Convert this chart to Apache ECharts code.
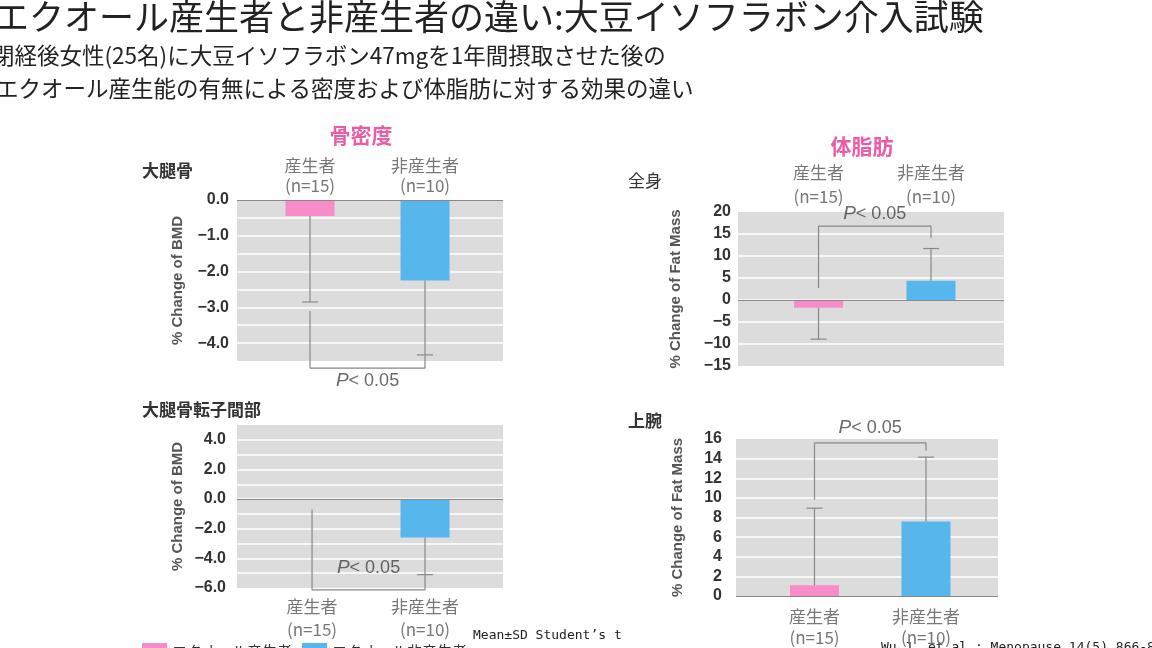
<!DOCTYPE html>
<html>
<head>
<meta charset="utf-8">
<script src="https://cdn.jsdelivr.net/npm/echarts@6/dist/echarts.min.js"></script>
<style>
html, body { margin: 0; padding: 0; background: #fff; }
#chart { width: 1152px; height: 648px; }
</style>
</head>
<body>
<div id="chart"></div>
<script>
// 群
const groups = ['産生者', '非産生者'];
const groupN = ['(n=15)', '(n=10)'];
const seriesNames = ['エクオール産生者', 'エクオール非産生者'];

// 骨密度 % change (mean / SD)
const femurMean = [-0.45, -2.25];
const femurSD = [2.4, 2.08];
const trochMean = [0.0, -2.6];
const trochSD = [0, 2.5];

// 体脂肪 % change (mean / SD)
const wholeMean = [-1.75, 4.4];
const wholeSD = [7.15, 7.3];
const armMean = [1.1, 7.6];
const armSD = [7.85, 6.55];

// 有意差ブラケット [左の起点, 右の起点, 横線]
const femurBracket = [-3.1, -4.35, -4.7];
const trochBracket = [-0.7, -5.1, -6.13];
const wholeBracket = [2.7, 14.1, 16.8];
const armBracket = [9.8, 14.8, 15.6];

const colors = ['#f78cc9', '#57b6ec'];
const JP = '"Noto Sans CJK JP", sans-serif';
const NUM = '"Liberation Sans", Arial, sans-serif';

const panels = [
    { mean: femurMean, sd: femurSD, bracket: femurBracket, pY: -5.05,
      grid: { left: 237, top: 200, width: 266, height: 161 }, x: [0.365, 2.678],
      y: { min: -4.5, max: 0, interval: 0.5 }, every: 1, labelMax: 0, digits: 1,
      xPos: 'top', lineH: 20, margin: 4, name: '% Change of BMD', nameGap: 52 },
    { mean: trochMean, sd: trochSD, bracket: trochBracket, pY: -4.66,
      grid: { left: 237, top: 425, width: 266, height: 163 }, x: [0.336, 2.69],
      y: { min: -6, max: 5, interval: 1 }, every: 2, labelMax: 4, digits: 1,
      xPos: 'bottom', lineH: 23, margin: 7, name: '% Change of BMD', nameGap: 52 },
    { mean: wholeMean, sd: wholeSD, bracket: wholeBracket, pY: 19.5,
      grid: { left: 738, top: 212, width: 266, height: 154 }, x: [0.284, 2.649],
      y: { min: -15, max: 20, interval: 5 }, every: 5, labelMax: 20, digits: 0,
      xPos: 'top', lineH: 24, margin: 3, name: '% Change of Fat Mass', nameGap: 55 },
    { mean: armMean, sd: armSD, bracket: armBracket, pY: 17.1,
      grid: { left: 736, top: 439, width: 262, height: 158 }, x: [0.296, 2.646],
      y: { min: 0, max: 16, interval: 2 }, every: 2, labelMax: 16, digits: 0,
      xPos: 'bottom', lineH: 21, margin: 10, name: '% Change of Fat Mass', nameGap: 51 }
];

function fmtTick(v, p) {
    const k = v / p.every;
    if (Math.abs(k - Math.round(k)) > 1e-6 || v > p.labelMax + 1e-6) return '';
    const s = p.digits ? Math.abs(v).toFixed(p.digits) : String(Math.abs(Math.round(v)));
    return (v < -1e-9 ? '\u2212' : '') + s;
}

const grid = [], xAxis = [], yAxis = [], series = [];

panels.forEach((p, i) => {
    grid.push(Object.assign({ show: true, backgroundColor: '#dcdcdc', borderWidth: 0 }, p.grid));
    xAxis.push({
        gridIndex: i, type: 'value', min: p.x[0], max: p.x[1], position: p.xPos,
        axisLine: { show: false }, axisTick: { show: false }, splitLine: { show: false },
        axisLabel: {
            customValues: [1, 2],
            formatter: v => groups[Math.round(v) - 1] + '\n' + groupN[Math.round(v) - 1],
            margin: p.margin, lineHeight: p.lineH, fontSize: 17, color: '#777', fontFamily: JP
        }
    });
    yAxis.push({
        gridIndex: i, type: 'value', min: p.y.min, max: p.y.max, interval: p.y.interval,
        name: p.name, nameLocation: 'middle', nameGap: p.nameGap,
        nameTextStyle: { fontSize: 15, fontWeight: 'bold', color: '#555', fontFamily: NUM },
        axisLine: { show: false }, axisTick: { show: false },
        splitLine: { show: true, showMinLine: false, showMaxLine: false, lineStyle: { color: '#f6f6f6', width: 2 } },
        axisLabel: {
            formatter: v => fmtTick(v, p), margin: p.margin + 4,
            fontSize: 16, fontWeight: 'bold', color: '#333', fontFamily: NUM
        }
    });

    // 棒
    [0, 1].forEach(k => {
        series.push({
            type: 'bar', name: seriesNames[k], xAxisIndex: i, yAxisIndex: i,
            data: [[k + 1, p.mean[k]]], barWidth: 49, barGap: '-100%',
            itemStyle: { color: colors[k] },
            markLine: k === 0 ? {
                silent: true, symbol: 'none', label: { show: false },
                lineStyle: { color: '#888', width: 1, type: 'solid' },
                data: [{ yAxis: 0 }]
            } : undefined,
            z: 2
        });
    });

    // SD（片側）
    const err = [];
    p.mean.forEach((m, k) => {
        if (p.sd[k] > 0) err.push([k + 1, m, m + (m < 0 ? -1 : 1) * p.sd[k]]);
    });
    series.push({
        type: 'custom', xAxisIndex: i, yAxisIndex: i, data: err, clip: false, silent: true, z: 3,
        renderItem: (params, api) => {
            const a = api.coord([api.value(0), api.value(1)]);
            const b = api.coord([api.value(0), api.value(2)]);
            const st = { stroke: '#888', lineWidth: 1.2 };
            return {
                type: 'group', children: [
                    { type: 'line', shape: { x1: a[0], y1: a[1], x2: b[0], y2: b[1] }, style: st },
                    { type: 'line', shape: { x1: b[0] - 8, y1: b[1], x2: b[0] + 8, y2: b[1] }, style: st }
                ]
            };
        }
    });

    // ブラケット
    const br = p.bracket;
    series.push({
        type: 'line', xAxisIndex: i, yAxisIndex: i, clip: false, silent: true, symbol: 'none', z: 3,
        lineStyle: { color: '#888', width: 1.2 },
        data: [[1, br[0]], [1, br[2]], [2, br[2]], [2, br[1]]]
    });

    // P値
    series.push({
        type: 'scatter', xAxisIndex: i, yAxisIndex: i, clip: false, silent: true, z: 4,
        symbolSize: 2, itemStyle: { color: 'rgba(0,0,0,0)' },
        data: [[1.5, p.pY]],
        label: {
            show: true, position: 'inside', formatter: '{i|P}{n|< 0.05}',
            rich: {
                i: { fontStyle: 'italic', fontSize: 19, color: '#444', fontFamily: NUM },
                n: { fontSize: 18, color: '#444', fontFamily: NUM }
            }
        }
    });
});

function txt(x, y, text, size, extra) {
    return {
        type: 'text', x: x, y: y, silent: true,
        style: Object.assign({ text: text, fontSize: size, fontFamily: JP, fill: '#333',
            textVerticalAlign: 'middle' }, extra || {})
    };
}

const graphics = [
    txt(-6, 17, 'エクオール産生者と非産生者の違い:大豆イソフラボン介入試験', 35, { fill: '#222' }),
    txt(-8, 55, '閉経後女性(25名)に大豆イソフラボン47mgを1年間摂取させた後の', 22.5, { fill: '#222' }),
    txt(-4, 88, 'エクオール産生能の有無による密度および体脂肪に対する効果の違い', 22.5, { fill: '#222' }),
    txt(361, 135, '骨密度', 21, { fill: '#ec5ca6', fontWeight: 'bold', textAlign: 'center' }),
    txt(862, 146, '体脂肪', 21, { fill: '#ec5ca6', fontWeight: 'bold', textAlign: 'center' }),
    txt(142, 171, '大腿骨', 17, { fontWeight: 'bold' }),
    txt(142, 410, '大腿骨転子間部', 17, { fontWeight: 'bold' }),
    txt(628, 181, '全身', 17),
    txt(628, 421, '上腕', 17, { fontWeight: 'bold' }),
    txt(473, 636, 'Mean±SD Student’s t', 13, { fontFamily: '"DejaVu Sans Mono", monospace', fill: '#222' }),
    txt(881, 648, 'Wu J, et al.: Menopause 14(5) 866-874 2007', 13, { fontFamily: '"DejaVu Sans Mono", monospace', fill: '#222' })
];

const chart = echarts.init(document.getElementById('chart'));
chart.setOption({
    animation: false,
    backgroundColor: '#fff',
    legend: {
        data: seriesNames, left: 137, top: 638, itemWidth: 25, itemHeight: 16, itemGap: 10,
        icon: 'rect', textStyle: { fontSize: 15, color: '#333', fontFamily: JP }
    },
    grid: grid,
    xAxis: xAxis,
    yAxis: yAxis,
    series: series,
    graphic: graphics
});
</script>
</body>
</html>
